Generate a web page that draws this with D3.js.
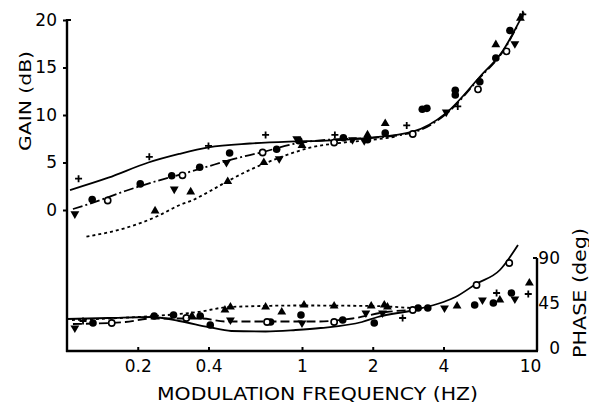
<!DOCTYPE html>
<html>
<head>
<meta charset="utf-8">
<script src="https://cdn.jsdelivr.net/npm/d3@7"></script>
<style>
  body { margin: 0; background: #fff; }
  svg { display: block; font-family: "DejaVu Sans", sans-serif; }
</style>
</head>
<body>
<svg id="chart" width="589" height="406"></svg>
<script>
// frequency (Hz), gain (dB) / phase (deg)
const gainPlus = [[0.112, 3.3], [0.224, 5.6], [0.40, 6.75], [0.70, 7.9], [1.38, 7.9], [2.79, 8.9], [4.6, 10.9], [8.7, 20.6]];
const gainFilled = [[0.128, 1.1], [0.205, 2.75], [0.279, 3.6], [0.367, 4.5], [0.492, 6.0], [0.78, 6.4], [0.97, 7.3], [1.5, 7.6], [1.9, 7.4], [2.26, 8.1], [3.25, 10.6], [3.4, 10.7], [4.49, 12.6], [4.49, 12.1], [5.71, 13.5], [6.68, 16.0], [7.67, 18.9]];
const gainOpen = [[0.149, 1.0], [0.31, 3.65], [0.68, 6.05], [1.37, 7.1], [2.96, 8.0], [5.61, 12.7], [7.42, 16.7]];
const gainDown = [[0.108, -0.4], [0.286, 2.2], [0.477, 5.0], [0.80, 5.4], [0.95, 7.5], [1.64, 7.4], [1.84, 7.3], [4.11, 10.3], [8.05, 17.5]];
const gainUp = [[0.237, -0.1], [0.336, 1.9], [0.483, 3.0], [0.688, 5.0], [1.0, 6.8], [1.9, 7.9], [2.26, 9.1], [6.68, 17.4], [8.5, 20.2]];

const phasePlus = [[0.117, 27], [2.68, 30], [6.73, 55], [9.18, 54]];
const phaseFilled = [[0.129, 25], [0.235, 32], [0.284, 33], [0.369, 32], [0.407, 23], [0.735, 26], [0.99, 33], [1.49, 28], [2.03, 25], [3.12, 40], [3.43, 40], [5.43, 43], [6.52, 45], [7.78, 55]];
const phaseOpen = [[0.155, 25], [0.322, 30], [0.71, 26], [1.37, 26], [2.96, 38], [5.53, 63], [7.62, 85]];
const phaseDown = [[0.108, 20], [0.496, 28], [1.0, 25], [1.87, 35], [2.2, 35], [4.04, 40], [5.86, 48], [8.05, 49]];
const phaseUp = [[0.34, 32], [0.47, 38], [0.496, 41], [0.70, 41], [0.82, 36], [1.02, 43], [1.37, 42], [1.97, 42], [2.24, 43], [2.31, 41], [4.57, 42], [6.95, 48], [9.28, 65]];

// fitted curves
const gainSolid = [[0.103, 2.1], [0.15, 3.4], [0.222, 5.0], [0.30, 5.9], [0.40, 6.6], [0.6, 7.0], [0.88, 7.2], [1.26, 7.3], [1.93, 7.6], [2.96, 8.25], [4.1, 10.2], [5.7, 14.0], [7.17, 16.8], [8.8, 20.8]];
const gainDashed = [[0.106, 0.1], [0.13, 0.8], [0.177, 2.0], [0.245, 3.1], [0.31, 3.8], [0.388, 4.5], [0.5, 5.3], [0.68, 6.1], [0.94, 7.0], [1.3, 7.4], [2.0, 7.6], [3.0, 8.2], [4.1, 10.1], [5.7, 13.9], [7.17, 16.7], [8.3, 19.5]];
const gainDotted = [[0.121, -2.8], [0.177, -1.9], [0.245, -0.6], [0.30, 0.5], [0.34, 1.0], [0.40, 1.9], [0.48, 3.0], [0.575, 4.0], [0.8, 5.5], [1.1, 6.6], [1.5, 7.1], [2.0, 7.4], [2.5, 7.7]];

const phaseSolid = [[0.1, 29], [0.15, 30], [0.23, 31], [0.3, 27], [0.4, 21], [0.5, 17], [0.7, 16.5], [0.94, 18], [1.2, 20], [1.8, 26], [2.1, 31], [3.0, 38], [4.0, 46], [4.5, 51], [5.5, 64], [6.95, 78], [8.3, 103]];
const phaseDashed = [[0.106, 24], [0.177, 26], [0.229, 29.5], [0.375, 29.5], [0.47, 26.5], [0.85, 26.5], [1.18, 26.5], [1.64, 29.5], [2.28, 36], [3.0, 38]];
const phaseDotted = [[0.105, 28], [0.2, 31], [0.3, 34], [0.36, 36], [0.49, 41], [1.0, 42.5], [2.0, 42], [2.9, 40]];

const freqTicks = [0.2, 0.4, 1, 2, 4, 10];
const gainTicks = [0, 5, 10, 15, 20];
const phaseTicks = [0, 45, 90];

const svg = d3.select("#chart");

const x = d3.scaleLog().domain([0.1, 10]).range([67, 537]);
const yGain = d3.scaleLinear().domain([0, 20]).range([210, 20]);
const yPhase = d3.scaleLinear().domain([0, 90]).range([348, 258]);
const bottomY = 351;

// axes
const axW = 2.4;
svg.append("line").attr("x1", 67).attr("x2", 67).attr("y1", yGain(20) - 1).attr("y2", bottomY + 1)
  .attr("stroke", "#000").attr("stroke-width", axW);
svg.append("line").attr("x1", 66).attr("x2", 538).attr("y1", bottomY).attr("y2", bottomY)
  .attr("stroke", "#000").attr("stroke-width", axW);
svg.append("line").attr("x1", 537).attr("x2", 537).attr("y1", yPhase(90)).attr("y2", bottomY)
  .attr("stroke", "#000").attr("stroke-width", axW);
// little end ticks
svg.append("line").attr("x1", 67).attr("x2", 71).attr("y1", yGain(20)).attr("y2", yGain(20))
  .attr("stroke", "#000").attr("stroke-width", 2);
svg.append("line").attr("x1", 533).attr("x2", 537).attr("y1", yPhase(90)).attr("y2", yPhase(90))
  .attr("stroke", "#000").attr("stroke-width", 2);

const gAxis = svg.append("g").attr("transform", "translate(67,0)")
  .call(d3.axisLeft(yGain).tickValues(gainTicks).tickSize(4).tickPadding(6));
const xAxis = svg.append("g").attr("transform", `translate(0,${bottomY})`)
  .call(d3.axisBottom(x).tickValues(freqTicks).tickFormat(d => String(d)).tickSizeInner(-4).tickSizeOuter(0).tickPadding(9));
const pAxis = svg.append("g").attr("transform", "translate(537,0)")
  .call(d3.axisRight(yPhase).tickValues(phaseTicks).tickSize(0).tickPadding(23));

[gAxis, xAxis, pAxis].forEach(a => {
  a.select(".domain").remove();
  a.selectAll("line").attr("stroke", "#000").attr("stroke-width", 2);
  a.selectAll("text").attr("font-family", "DejaVu Sans, sans-serif").attr("font-size", 17).attr("fill", "#000");
});
pAxis.selectAll("text").attr("text-anchor", "end");
xAxis.selectAll(".tick").filter(d => d === 10).select("line").remove();
xAxis.selectAll(".tick").filter(d => d === 10).select("text").attr("dx", -7);

// axis titles
svg.append("text").attr("transform", "translate(31,101) rotate(-90)")
  .attr("text-anchor", "middle").attr("font-size", 16).attr("textLength", 100).attr("lengthAdjust", "spacingAndGlyphs")
  .text("GAIN (dB)");
svg.append("text").attr("transform", "translate(586,293) rotate(-90)")
  .attr("text-anchor", "middle").attr("font-size", 17).attr("textLength", 130).attr("lengthAdjust", "spacingAndGlyphs")
  .text("PHASE (deg)");
svg.append("text").attr("x", 157).attr("y", 400)
  .attr("font-size", 17).attr("textLength", 321).attr("lengthAdjust", "spacingAndGlyphs")
  .text("MODULATION FREQUENCY  (HZ)");

// curves
function curve(data, y, dash) {
  const line = d3.line().x(d => x(d[0])).y(d => y(d[1])).curve(d3.curveMonotoneX);
  svg.append("path").datum(data).attr("d", line)
    .attr("fill", "none").attr("stroke", "#000").attr("stroke-width", 1.8)
    .attr("stroke-dasharray", dash);
}
curve(gainSolid, yGain, null);
curve(gainDashed, yGain, "10,3,2,3");
curve(gainDotted, yGain, "3,3");
curve(phaseSolid, yPhase, null);
curve(phaseDashed, yPhase, "9,4");
curve(phaseDotted, yPhase, "3,3");

// markers
const triUp = d3.symbol().type(d3.symbolTriangle).size(34)();
function markers(data, y, kind) {
  const g = svg.append("g");
  data.forEach(d => {
    const cx = x(d[0]), cy = y(d[1]);
    if (kind === "filled") {
      g.append("circle").attr("cx", cx).attr("cy", cy).attr("r", 3.8).attr("fill", "#000");
    } else if (kind === "open") {
      g.append("circle").attr("cx", cx).attr("cy", cy).attr("r", 3.1)
        .attr("fill", "#fff").attr("stroke", "#000").attr("stroke-width", 1.6);
    } else if (kind === "plus") {
      g.append("path").attr("d", `M${cx - 3.5},${cy}H${cx + 3.5}M${cx},${cy - 3.5}V${cy + 3.5}`)
        .attr("stroke", "#000").attr("stroke-width", 1.8);
    } else {
      g.append("path").attr("d", triUp)
        .attr("transform", `translate(${cx},${cy})` + (kind === "down" ? " rotate(180)" : ""))
        .attr("fill", "#000");
    }
  });
}
markers(gainPlus, yGain, "plus");
markers(gainFilled, yGain, "filled");
markers(gainOpen, yGain, "open");
markers(gainDown, yGain, "down");
markers(gainUp, yGain, "up");
markers(phasePlus, yPhase, "plus");
markers(phaseFilled, yPhase, "filled");
markers(phaseOpen, yPhase, "open");
markers(phaseDown, yPhase, "down");
markers(phaseUp, yPhase, "up");
</script>
</body>
</html>
